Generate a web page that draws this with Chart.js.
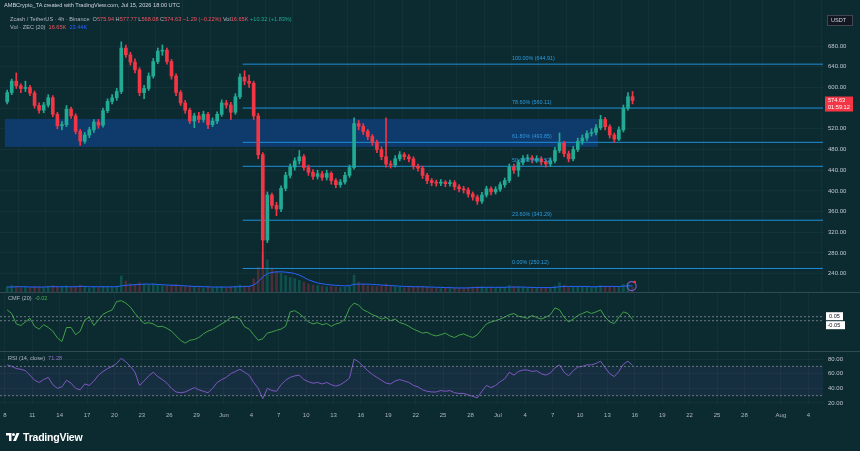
<!DOCTYPE html>
<html><head><meta charset="utf-8">
<script src="https://cdn.jsdelivr.net/npm/chart.js@4.4.1/dist/chart.umd.min.js"></script>
<style>
html,body{margin:0;padding:0;background:#0b2b31;width:860px;height:451px;overflow:hidden;font-family:'Liberation Sans',Arial,sans-serif;}
.pane{position:absolute;left:0;width:860px;}
.t{position:absolute;font-size:5.6px;color:#b2b5be;white-space:nowrap;line-height:7px;}
.r{color:#f7525f}.g{color:#22ab94}.b{color:#2962ff}.p{color:#9575cd}.gr{color:#4caf50}
.sep{position:absolute;left:0;width:860px;height:1px;background:rgba(120,130,150,0.35);}
#logo{position:absolute;left:6px;top:431px;height:12px;display:flex;align-items:center;color:#fff;font-size:10.5px;font-weight:bold;letter-spacing:-0.2px;}
</style></head><body>
<div class="pane" style="top:0;height:292px"><canvas id="main" width="860" height="292"></canvas></div>
<div class="pane" style="top:293px;height:58px"><canvas id="cmf" width="860" height="58"></canvas></div>
<div class="pane" style="top:352px;height:78px"><canvas id="rsi" width="860" height="78"></canvas></div>
<div class="sep" style="top:292px"></div>
<div class="sep" style="top:351px"></div>

<div class="t" style="left:4px;top:2px;color:#d1d4dc">AMBCrypto_TA created with TradingView.com, Jul 15, 2026 18:00 UTC</div>
<div class="t" style="left:10px;top:16px">Zcash / TetherUS · 4h · Binance &nbsp;O<span class="r">575.94</span> H<span class="r">577.77</span> L<span class="r">568.08</span> C<span class="r">574.63</span> <span class="r">−1.29 (−0.22%)</span> Vol<span class="r">16.65K</span> <span class="g">+10.32 (+1.83%)</span></div>
<div class="t" style="left:10px;top:24px">Vol · ZEC (20) &nbsp;<span class="r">16.65K</span> &nbsp;<span class="b">23.44K</span></div>
<div class="t" style="left:8px;top:295px">CMF (20) &nbsp;<span class="gr">-0.02</span></div>
<div class="t" style="left:8px;top:355px">RSI (14, close) &nbsp;<span class="p">71.28</span></div>
<div id="logo"><svg width="14" height="10" viewBox="0 0 28 20"><path d="M0 2h11v16H6V7H0z" fill="#fff"/><circle cx="15" cy="5" r="3" fill="#fff"/><path d="M21 2h6l-7 16h-6z" fill="#fff"/></svg><span style="margin-left:3px">TradingView</span></div>

<script>
// ---- time axis: days counted from May 1 (0 = May 1 00:00), 12h candles ----
const firstCandleDay = 7;
const candleStep = 0.5;
const xTickDays   = [7,10,13,16,19,22,25,28,31,34,37,40,43,46,49,52,55,58,61,64,67,70,73,76,79,82,85,88,92,95];
const xTickLabels = ['8','11','14','17','20','23','26','29','Jun','4','7','10','13','16','19','22','25','28','Jul','4','7','10','13','16','19','22','25','28','Aug','4'];
const priceTicks = [240,280,320,360,400,440,480,520,560,600,640,680];
const rsiTicks = [20,40,60,80];

const opens = [572,590,612,603,598,600,589,565,556,566,
580,548,526,528,558,545,515,496,508,518,
533,527,555,573,580,592,676,663,649,634,
590,598,622,650,670,672,650,622,590,570,
556,535,545,538,548,528,535,548,570,566,
552,582,620,612,608,545,470,305,392,372,
365,405,430,446,458,466,445,436,428,433,
426,434,420,412,417,430,445,530,525,515,
505,494,480,466,452,450,462,470,466,462,
448,444,430,420,416,415,417,414,416,408,
404,402,394,388,380,392,404,398,403,412,
420,446,440,455,462,464,460,462,456,452,
458,478,492,472,462,480,496,502,511,513,
522,538,524,508,500,518,560,582];
const highs = [595,616,628,607,612,604,593,570,571,586,
584,552,534,565,562,549,519,513,523,538,
538,560,578,586,598,688,682,668,655,638,
604,628,656,676,682,676,654,626,594,575,
560,550,552,554,552,541,553,576,575,571,
588,626,632,624,612,550,474,398,396,378,
410,436,452,464,478,470,450,441,440,438,
440,437,424,422,436,450,541,536,530,519,
509,498,485,541,458,468,476,474,470,466,
452,448,434,424,421,422,420,421,420,412,
409,406,398,392,397,409,408,408,417,425,
452,452,460,468,470,468,468,466,460,464,
484,512,496,477,486,502,508,516,520,528,
546,542,528,512,524,566,590,592];
const lows = [568,586,598,590,592,584,560,550,551,562,
543,520,518,524,540,510,488,492,503,513,
521,523,551,568,575,588,658,643,628,584,
578,594,618,646,662,645,616,584,565,550,
530,522,532,533,520,524,530,544,560,538,
548,578,605,600,538,462,250,300,366,352,
360,400,425,440,452,440,430,422,423,420,
421,413,406,407,413,426,442,518,509,499,
488,474,460,446,444,446,458,460,456,442,
438,424,414,410,409,410,408,409,402,398,
396,388,382,374,376,388,392,394,399,407,
416,434,428,450,457,454,455,450,446,447,
454,474,466,456,458,476,490,497,506,508,
518,518,502,494,497,514,556,568.08];
const closes = [590,612,603,598,600,589,565,556,566,580,
548,526,528,558,545,515,496,508,518,533,
527,555,573,580,592,676,663,649,634,590,
598,622,650,670,672,650,622,590,570,556,
535,545,538,548,528,535,548,570,566,552,
582,620,612,608,545,470,305,392,372,365,
405,430,446,458,466,445,436,428,433,426,
434,420,412,417,430,445,530,525,515,505,
494,480,466,452,450,462,470,466,462,448,
444,430,420,416,415,417,414,416,408,404,
402,394,388,380,392,404,398,403,412,420,
446,440,455,462,464,460,462,456,452,458,
478,492,472,462,480,496,502,511,513,522,
538,524,508,500,518,560,582,574.63];
const volumes = [18,22,20,15,16,14,20,17,15,19,
22,18,16,21,17,20,24,16,14,17,
15,19,18,16,20,55,38,28,25,32,
26,24,28,25,22,20,24,26,20,18,
20,17,15,14,18,15,16,18,15,17,
20,24,21,19,45,85,134,110,82,70,
64,56,50,46,40,34,28,24,22,20,
18,19,17,15,16,20,58,34,26,22,
20,19,21,28,22,18,17,15,16,18,
17,19,16,14,13,12,13,12,14,13,
12,15,17,19,18,16,14,13,15,16,
22,18,17,15,14,13,12,13,14,13,
20,32,24,18,17,19,18,17,16,18,
22,20,19,17,18,26,30,16];
const volumeMA = [17,17,18,18,18,17,17,17,17,18,
18,18,18,18,18,18,19,19,18,18,
18,18,18,18,18,21,23,24,25,26,
27,27,27,26,25,24,23,23,22,21,
20,19,19,18,18,17,17,17,17,17,
18,18,19,19,24,35,52,63,67,69,
69,68,66,63,58,50,42,36,31,28,
26,24,23,22,21,22,26,27,27,27,
26,25,24,23,22,21,20,19,19,18,
18,18,17,17,16,16,15,15,14,14,
14,14,15,15,16,16,16,16,16,16,
17,17,17,17,16,16,15,15,15,15,
16,18,19,19,19,19,19,19,18,18,
19,19,19,19,19,20,21,21];
const cmfValues = [0.22,0.13,-0.13,-0.17,-0.08,0.01,-0.19,-0.26,-0.15,-0.22,
-0.31,-0.48,-0.57,-0.22,-0.22,-0.40,-0.31,-0.03,0.04,-0.17,
-0.03,0.11,0.17,0.22,0.43,0.45,0.39,0.29,0.13,0.01,
-0.12,-0.10,-0.13,-0.20,-0.19,-0.24,-0.31,-0.43,-0.54,-0.61,
-0.54,-0.52,-0.47,-0.38,-0.31,-0.27,-0.20,-0.13,-0.06,0.03,
0.04,-0.01,-0.20,-0.26,-0.40,-0.54,-0.50,-0.36,-0.33,-0.29,
-0.26,-0.19,0.17,0.20,0.13,0.03,-0.08,-0.13,-0.10,-0.15,
-0.12,-0.19,-0.13,-0.10,-0.01,0.27,0.39,0.34,0.22,0.17,
0.10,0.06,-0.01,0.03,-0.05,-0.01,-0.10,-0.13,-0.19,-0.26,
-0.31,-0.36,-0.34,-0.40,-0.43,-0.40,-0.36,-0.43,-0.47,-0.41,
-0.38,-0.43,-0.47,-0.40,-0.26,-0.13,-0.08,-0.05,-0.01,0.04,
0.10,0.13,0.06,0.04,0.01,0.08,0.03,-0.01,0.04,0.10,
0.27,0.22,0.04,-0.08,-0.01,0.08,0.13,0.18,0.13,0.17,
0.22,0.04,-0.08,-0.12,0.04,0.17,0.13,-0.02];
const rsiValues = [72,70,67,66,64,58,51,48,52,55,
45,40,42,51,47,40,38,46,44,50,
58,63,67,70,74,81,76,70,62,44,
50,57,62,56,52,47,40,35,34,35,
38,41,38,36,34,40,48,52,55,60,
63,66,62,58,48,40,26,40,37,36,
45,51,55,57,58,52,49,47,48,46,
48,45,43,45,49,54,80,76,70,64,
59,55,51,47,46,50,52,50,48,44,
42,38,36,35,35,37,36,37,34,33,
33,31,29,27,36,44,41,44,49,53,
62,58,63,65,65,63,64,60,58,61,
68,72,62,57,64,69,70,72,72,74,
77,68,60,56,63,73,77,71.28];

const fibLevels = [644.91,560.11,493.85,447.52,343.29,250.12];
const fibLabels = ['100.00% (644.91)','78.60% (560.11)','61.80% (493.85)','50.00% (447.52)','23.60% (343.29)','0.00% (250.12)'];
const fibStartDay = 33.05, fibLabelDay = 62.55;
const zoneDays = [7.0, 71.96];
const zonePrices = [485, 539];
const cmfBands = [0.05, -0.05];
const rsiBands = [70, 30];
const lastPrice = 574.63, countdown = '01:59:12';

// ---- derived plotting helpers ----
const N = closes.length;
const candleDay = Array.from({length:N},(_,i)=>firstCandleDay + i*candleStep + candleStep/2);
const X_MIN = 6.466, X_MAX = 96.61;
const isUp = i => closes[i] >= opens[i];
const UP='#22ab94', DOWN='#f23645';
const FONT = "'Liberation Sans', Arial, sans-serif";
Chart.defaults.font.family = FONT;
Chart.defaults.font.size = 6;
Chart.defaults.color = '#b2b5be';
const GRID = 'rgba(140,160,180,0.06)';

function xScale(showLabels){
  return {type:'linear', min:X_MIN, max:X_MAX, offset:false, display:true,
    afterBuildTicks: s => { s.ticks = xTickDays.map(v=>({value:v})); },
    ticks:{display:showLabels, autoSkip:false, maxRotation:0, padding:7, color:'#b2b5be', font:{size:6},
      callback:(v)=>{ const k=xTickDays.indexOf(v); return k>=0?xTickLabels[k]:''; }},
    grid:{color:GRID, drawTicks:false}, border:{display:false},
    afterFit: s => { s.height = showLabels?25:0; s.paddingLeft=0; s.paddingRight=0; }};
}
function yScale(min,max,ticks,showLabels){
  return {position:'right', min, max,
    afterBuildTicks: s => { s.ticks = ticks.map(v=>({value:v})); },
    ticks:{display:showLabels, padding:5, color:'#c3c6ce', font:{size:6}, callback:v=>Number(v).toFixed(2)},
    grid:{color:GRID, drawTicks:false}, border:{display:false},
    afterFit: s => { s.width = 37; s.paddingTop=0; s.paddingBottom=0; }};
}
const baseOpts = {responsive:false, animation:false, events:[],
  layout:{padding:0, autoPadding:false},
  plugins:{legend:{display:false}, tooltip:{enabled:false}}};

// ---- main price pane ----
const mainPlugin = {
  id:'mainOverlay',
  beforeDatasetsDraw(chart){
    const {ctx, scales:{x,y}} = chart;
    const x0=x.getPixelForValue(zoneDays[0]), x1=x.getPixelForValue(zoneDays[1]);
    const y0=y.getPixelForValue(zonePrices[1]), y1=y.getPixelForValue(zonePrices[0]);
    ctx.save(); ctx.fillStyle='#0f3a6c'; ctx.fillRect(x0,y0,x1-x0,y1-y0); ctx.restore();
  },
  afterDatasetsDraw(chart){
    const {ctx, scales:{x,y}} = chart;
    ctx.save();
    ctx.font = '5.4px '+FONT; ctx.fillStyle='#2c9be0'; ctx.textBaseline='bottom';
    fibLevels.forEach((lv,k)=>ctx.fillText(fibLabels[k], x.getPixelForValue(fibLabelDay), y.getPixelForValue(lv)-3));
    // event marker
    const mx = x.getPixelForValue(candleDay[N-1]-0.1), my = y.getPixelForValue(216);
    ctx.strokeStyle='#7e57c2'; ctx.lineWidth=1.2; ctx.beginPath(); ctx.arc(mx,my,4.5,0,Math.PI*2); ctx.stroke();
    ctx.fillStyle='#f23645'; ctx.beginPath(); ctx.arc(mx+3,my-4,1.3,0,Math.PI*2); ctx.fill();
    ctx.restore();
  },
  afterDraw(chart){
    const {ctx, scales:{y}} = chart;
    ctx.save();
    const py = y.getPixelForValue(lastPrice);
    ctx.fillStyle='#f23645'; ctx.fillRect(825, py-4, 28, 15);
    ctx.fillStyle='#fff'; ctx.font='5.6px '+FONT; ctx.textBaseline='middle';
    ctx.fillText(lastPrice.toFixed(2), 828, py);
    ctx.fillText(countdown, 828, py+7);
    ctx.fillStyle='#131722'; ctx.strokeStyle='#434651'; ctx.lineWidth=1;
    ctx.fillRect(827.5,15.5,25,10); ctx.strokeRect(827.5,15.5,25,10);
    ctx.fillStyle='#d1d4dc'; ctx.fillText('USDT', 831, 20.5);
    ctx.restore();
  }
};
const candleColors = closes.map((c,i)=>isUp(i)?UP:DOWN);
const volColors = closes.map((c,i)=>isUp(i)?'rgba(34,171,148,0.28)':'rgba(242,54,69,0.28)');
const fibSets = fibLevels.map(lv=>({type:'line', yAxisID:'y', data:[{x:fibStartDay,y:lv},{x:X_MAX,y:lv}],
  borderColor:'#1f8fd6', borderWidth:1, pointRadius:0, order:5}));
new Chart(document.getElementById('main'), {
  type:'bar',
  data:{datasets:[
    {type:'bar', yAxisID:'yv', data:volumes.map((v,i)=>({x:candleDay[i],y:v})), backgroundColor:volColors, barThickness:2, grouped:false, order:10},
    {type:'line', yAxisID:'yv', data:volumeMA.map((v,i)=>({x:candleDay[i],y:v})), borderColor:'#2962ff', borderWidth:1, pointRadius:0, order:9},
    ...fibSets,
    {type:'bar', yAxisID:'y', data:lows.map((l,i)=>({x:candleDay[i],y:[l,highs[i]]})), backgroundColor:candleColors, barThickness:1, grouped:false, order:2},
    {type:'bar', yAxisID:'y', data:opens.map((o,i)=>({x:candleDay[i],y:[o,closes[i]]})), backgroundColor:candleColors, barThickness:3, grouped:false, minBarLength:1, order:1}
  ]},
  options:{...baseOpts,
    scales:{x:xScale(false), y:yScale(204.6,768.9,priceTicks,true),
      yv:{display:false, min:0, max:1000}}},
  plugins:[mainPlugin]
});

// ---- CMF pane ----
const cmfPlugin = {
  id:'cmfOverlay',
  afterDraw(chart){
    const {ctx, scales:{y}} = chart;
    ctx.save(); ctx.font='5.6px '+FONT; ctx.textBaseline='middle';
    const y1=y.getPixelForValue(cmfBands[0]), y2=y.getPixelForValue(cmfBands[1]);
    ctx.fillStyle='#ffffff'; ctx.fillRect(826,y1-4.5,17,8); ctx.fillRect(826,y2+0.5,19,8);
    ctx.fillStyle='#131722'; ctx.fillText('0.05',829,y1-0.5); ctx.fillText('-0.05',827.5,y2+4.5);
    ctx.restore();
  }
};
new Chart(document.getElementById('cmf'), {
  type:'line',
  data:{datasets:[
    ...cmfBands.map(v=>({data:[{x:X_MIN,y:v},{x:X_MAX,y:v}], borderColor:'rgba(150,155,170,0.7)', borderDash:[2,2], borderWidth:1, pointRadius:0})),
    {data:cmfValues.map((v,i)=>({x:candleDay[i],y:v})), borderColor:'#43a047', borderWidth:1, pointRadius:0}
  ]},
  options:{...baseOpts, scales:{x:xScale(false), y:yScale(-0.8075,0.6425,[],false)}},
  plugins:[cmfPlugin]
});

// ---- RSI pane ----
new Chart(document.getElementById('rsi'), {
  type:'line',
  data:{datasets:[
    {data:[{x:X_MIN,y:rsiBands[1]},{x:X_MAX,y:rsiBands[1]}], borderColor:'rgba(150,155,170,0.7)', borderDash:[2,2], borderWidth:1, pointRadius:0, fill:false},
    {data:[{x:X_MIN,y:rsiBands[0]},{x:X_MAX,y:rsiBands[0]}], borderColor:'rgba(150,155,170,0.7)', borderDash:[2,2], borderWidth:1, pointRadius:0, fill:'-1', backgroundColor:'rgba(126,87,194,0.10)'},
    {data:rsiValues.map((v,i)=>({x:candleDay[i],y:v})), borderColor:'#7e57c2', borderWidth:1, pointRadius:0, fill:false}
  ]},
  options:{...baseOpts, scales:{x:xScale(true), y:yScale(17.27,89.55,rsiTicks,true)}}
});
</script>
</body></html>
